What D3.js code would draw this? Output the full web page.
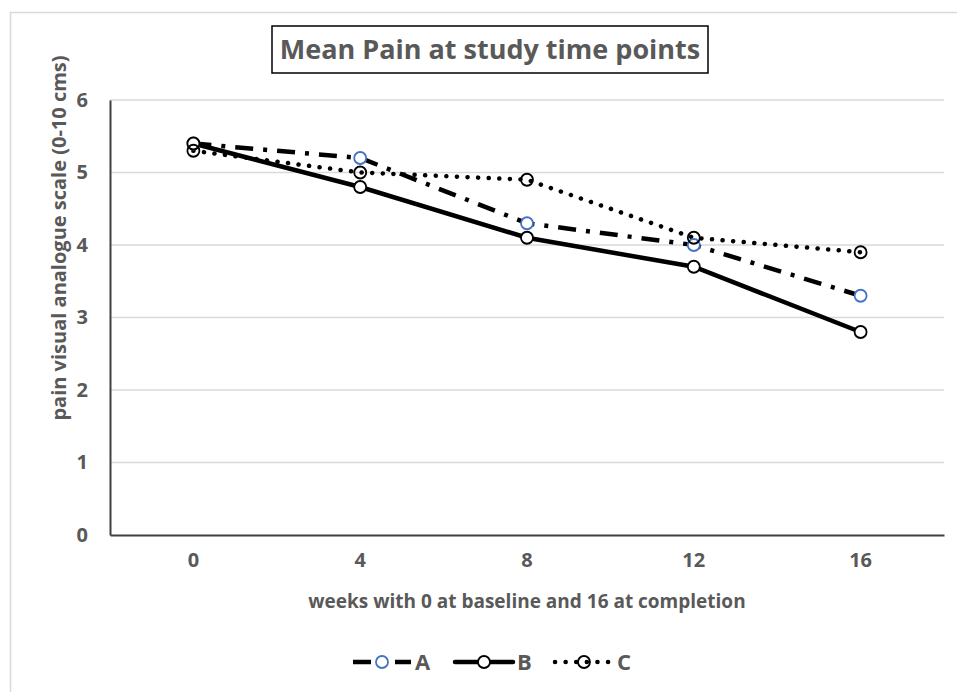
<!DOCTYPE html>
<html>
<head>
<meta charset="utf-8">
<script src="https://cdn.jsdelivr.net/npm/d3@7"></script>
<style>
  body { margin: 0; background: #fff; }
  text { font-family: "Open Sans", "Noto Sans", sans-serif; font-weight: bold; fill: #595959; }
</style>
</head>
<body>
<div id="chart"></div>
<script>
// data
const weeks = ["0", "4", "8", "12", "16"];
const seriesA = [5.4, 5.2, 4.3, 4.0, 3.3];
const seriesB = [5.4, 4.8, 4.1, 3.7, 2.8];
const seriesC = [5.3, 5.0, 4.9, 4.1, 3.9];
const yTicks = [0, 1, 2, 3, 4, 5, 6];

const width = 957, height = 692;
const margin = {left: 110, right: 13, top: 100, bottom: 157};

const series = [
    {name: "A", values: seriesA, dash: "18,10,4,10", cap: "butt", marker: "#4472C4", fill: "#fff"},
    {name: "B", values: seriesB, dash: null, cap: "round", marker: "#000", fill: "#fff"},
    {name: "C", values: seriesC, dash: "0.1,10.5", cap: "round", marker: "#000", fill: "none"}
]

const svg = d3.select("#chart").append("svg")
    .attr("width", width)
    .attr("height", height)

// outer chart border
svg.append("rect")
    .attr("x", 10.5).attr("y", 12.5)
    .attr("width", width).attr("height", height)
    .attr("fill", "none")
    .attr("stroke", "#d9d9d9")
    .attr("stroke-width", 1.5)

const x = d3.scaleBand()
    .domain(weeks)
    .range([margin.left, width - margin.right])

const y = d3.scaleLinear()
    .domain([0, 6])
    .range([height - margin.bottom, margin.top])

// gridlines
svg.append("g")
    .selectAll("line")
    .data(yTicks.filter(d => d > 0))
    .join("line")
        .attr("x1", margin.left)
        .attr("x2", width - margin.right)
        .attr("y1", d => y(d))
        .attr("y2", d => y(d))
        .attr("stroke", "#d9d9d9")
        .attr("stroke-width", 1.5)

// axes
const yAxis = svg.append("g")
    .attr("transform", `translate(${margin.left},0)`)
    .call(d3.axisLeft(y).tickValues(yTicks).tickSize(0).tickPadding(22).tickFormat(d3.format("d")))
yAxis.select(".domain").attr("stroke", "#404040").attr("stroke-width", 2)
yAxis.selectAll("text").style("font-size", "20px").attr("font-family", null).attr("fill", null)

const xAxis = svg.append("g")
    .attr("transform", `translate(0,${height - margin.bottom})`)
    .call(d3.axisBottom(x).tickSize(0).tickPadding(18))
xAxis.select(".domain").attr("stroke", "#404040").attr("stroke-width", 2)
xAxis.selectAll("text").style("font-size", "20px").attr("font-family", null).attr("fill", null)

// lines
const line = d3.line()
    .x((d, i) => x(weeks[i]) + x.bandwidth() / 2)
    .y(d => y(d))

series.forEach(s => {
    svg.append("path")
        .datum(s.values)
        .attr("d", line)
        .attr("fill", "none")
        .attr("stroke", "#000")
        .attr("stroke-width", 4.5)
        .attr("stroke-linecap", s.cap)
        .attr("stroke-dasharray", s.dash)
})

series.forEach(s => {
    svg.append("g")
        .selectAll("circle")
        .data(s.values)
        .join("circle")
            .attr("cx", (d, i) => x(weeks[i]) + x.bandwidth() / 2)
            .attr("cy", d => y(d))
            .attr("r", 6)
            .attr("fill", s.fill)
            .attr("stroke", s.marker)
            .attr("stroke-width", 1.8)
})

// title
svg.append("rect")
    .attr("x", 272).attr("y", 26)
    .attr("width", 436).attr("height", 47)
    .attr("fill", "#fff")
    .attr("stroke", "#000")
    .attr("stroke-width", 1.5)
svg.append("text")
    .attr("x", 490).attr("y", 59)
    .attr("text-anchor", "middle")
    .style("font-size", "27px")
    .text("Mean Pain at study time points")

// axis titles
svg.append("text")
    .attr("x", 527).attr("y", 608)
    .attr("text-anchor", "middle")
    .style("font-size", "19px")
    .text("weeks with 0 at baseline and 16 at completion")

svg.append("text")
    .attr("transform", "translate(66,238) rotate(-90)")
    .attr("text-anchor", "middle")
    .style("font-size", "20px")
    .text("pain visual analogue scale (0-10 cms)")

// legend
const legend = svg.append("g").attr("transform", "translate(0,662)")
const legendX = [353, 455, 555];
series.forEach((s, i) => {
    const g = legend.append("g").attr("transform", `translate(${legendX[i]},0)`)
    g.append("line")
        .attr("x1", 0).attr("x2", 58)
        .attr("stroke", "#000")
        .attr("stroke-width", 4.5)
        .attr("stroke-linecap", s.cap)
        .attr("stroke-dasharray", s.dash)
    g.append("circle")
        .attr("cx", 29)
        .attr("r", 6)
        .attr("fill", s.fill)
        .attr("stroke", s.marker)
        .attr("stroke-width", 1.8)
    g.append("text")
        .attr("x", 62).attr("y", 8)
        .style("font-size", "22px")
        .text(s.name)
})
</script>
</body>
</html>
